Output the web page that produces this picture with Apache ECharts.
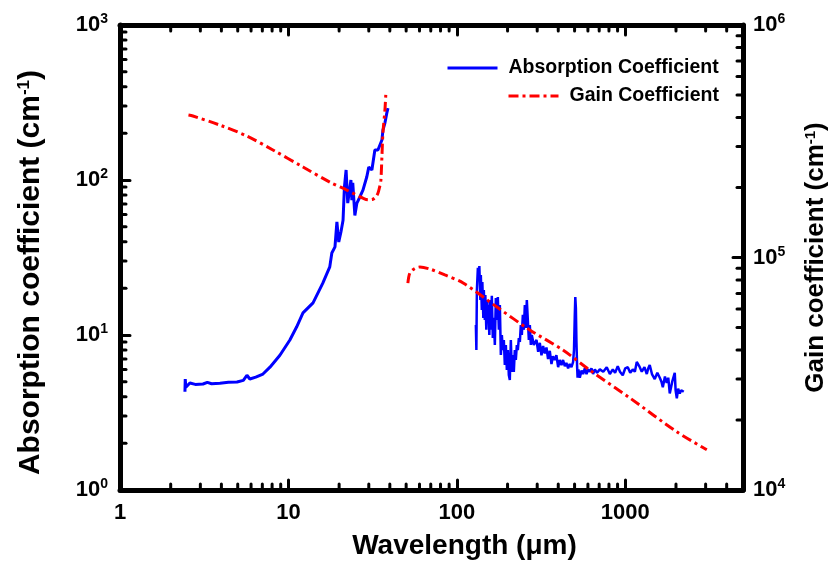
<!DOCTYPE html>
<html><head><meta charset="utf-8">
<script src="https://cdn.jsdelivr.net/npm/echarts@6/dist/echarts.min.js"></script>
<style>html,body{margin:0;padding:0;background:#fff}#c{width:833px;height:569px}</style>
</head><body><div id="c"></div>
<script>
// ---- data (wavelength in µm, coefficient in cm^-1) ----
const absorptionNearIR = [[2.43,4.3],[2.44,5.2],[2.46,4.6],[2.6,4.9],[2.8,4.8],[3.11,4.83],[3.3,4.95],[3.5,4.85],[3.92,4.88],[4.4,4.95],[4.95,4.97],[5.4,5.1],[5.67,5.5],[5.9,5.2],[6.4,5.35],[7.06,5.6],[7.77,6.2],[8.9,7.4],[10.2,9.29],[11.2,11.3],[12.2,13.9],[14.0,16.1],[16.0,21.6],[17.6,27.5],[18.1,33.8],[18.9,37.0],[19.4,53.6],[19.9,39.8],[20.5,46.2],[21.1,55],[21.5,90],[22.0,116],[22.5,71],[23.5,100],[23.8,74],[24.1,96],[24.8,59],[25.5,71],[26.6,78],[27.7,86],[29.2,105],[30.0,121],[31.3,116],[32.6,156],[34.0,156],[35.9,181],[36.4,210],[37.4,233],[38.4,271],[39.0,291]];
const absorptionFarIR = [[129.7,11.6],[130.6,8.0],[131.5,19.5],[133.3,27.1],[135.1,22.6],[136.0,27.9],[137.9,16.8],[138.8,24.4],[140.7,14.5],[141.7,22.0],[143.6,12.9],[144.6,19.5],[146.6,12.5],[147.6,18.1],[149.6,10.8],[150.7,16.8],[152.8,12.1],[153.8,15.6],[155.9,10.0],[157.0,16.8],[159.1,10.8],[161.3,17.9],[163.5,9.56],[165.8,12.9],[168.1,8.62],[170.4,17.3],[172.8,12.5],[175.1,17.6],[177.6,10.8],[180.0,15.6],[182.5,7.43],[185.0,10.0],[187.5,8.0],[190.1,9.29],[192.7,6.40],[195.4,8.62],[198.1,5.95],[200.8,8.0],[203.5,5.52],[206.3,5.12],[209.2,9.29],[212.1,5.77],[215.0,7.43],[217.9,5.77],[220.9,8.0],[224.0,6.90],[227.1,8.62],[230.2,8.0],[233.4,9.56],[236.6,9.01],[239.8,11.6],[243.1,10.0],[246.5,13.5],[249.9,10.8],[253.3,15.6],[256.8,11.1],[260.3,16.8],[263.9,12.5],[267.6,9.29],[271.2,11.6],[275.0,8.62],[278.7,10.0],[286.4,8.62],[297.1,9.29],[304,7.8],[310.9,8.9],[318,7.4],[325.2,8.5],[333,7.6],[340.4,8.3],[348,7.0],[356.3,7.9],[364.6,6.5],[372,7.3],[381.6,6.9],[390,7.4],[399.4,6.2],[408,6.9],[418.0,6.4],[427,6.9],[437.5,6.3],[447,6.6],[457.8,6.1],[468,6.5],[479.2,6.2],[490,6.7],[496,8.0],[501.2,13.1],[505,17.6],[509,15],[513,9.0],[517.5,6.3],[521,5.3],[527,6.0],[537,5.3],[550,5.9],[562,5.6],[575,6.1],[588.8,5.6],[600,6.0],[615.2,5.8],[630,6.1],[644,5.6],[660,6.0],[680,5.7],[706.3,6.0],[740,5.8],[776.2,6.2],[810,5.6],[843.3,6.0],[870,5.7],[902.2,6.3],[930,5.8],[966.1,5.5],[1000,6.1],[1035,6.2],[1070,5.7],[1108,6.0],[1140,5.8],[1170,6.7],[1210,6.3],[1253,5.8],[1300,6.2],[1342,5.6],[1370,6.1],[1397,6.4],[1440,5.6],[1496,5.2],[1550,5.7],[1603,5.3],[1640,5.0],[1671,4.6],[1720,5.4],[1762,4.9],[1800,5.3],[1837,4.2],[1900,5.0],[1967,5.7],[1990,4.4],[2023,3.9],[2060,4.5],[2106,4.2],[2150,4.4],[2224,4.3]];
const gainShort = [[2.55,4.1e5],[2.71,4.06e5],[3.92,3.71e5],[5.67,3.33e5],[8.09,2.9e5],[12.2,2.45e5],[17.6,2.11e5],[22.2,1.95e5],[27.7,1.8e5],[29.7,1.77e5],[31.7,1.78e5],[33.0,1.82e5],[34.0,1.89e5],[35.0,2.05e5],[35.4,2.15e5],[35.9,2.71e5],[36.4,3.43e5],[37.4,4.3e5],[37.9,5.11e5]];
const gainLong = [[51.2,7.76e4],[52.6,8.57e4],[56,8.95e4],[60.3,9.10e4],[69.2,8.92e4],[84.9,8.41e4],[109,7.77e4],[173,6.12e4],[271,4.88e4],[426,4.0e4],[615,3.28e4],[1064,2.49e4],[2023,1.78e4],[3048,1.49e4]];
const xMinorTicks = [2,3,4,5,6,7,8,9,20,30,40,50,60,70,80,90,200,300,400,500,600,700,800,900,2000,3000,4000];
const yLeftMinorTicks = [2,3,4,5,6,7,8,9,20,30,40,50,60,70,80,90,200,300,400,500,600,700,800,900];
const yRightMinorTicks = [2e4,3e4,4e4,5e4,6e4,7e4,8e4,9e4,2e5,3e5,4e5,5e5,6e5,7e5,8e5,9e5];
const seriesNames = ['Absorption Coefficient','Gain Coefficient'];
const axisTitles = {x:'Wavelength (μm)', yLeft:'Absorption coefficient (cm{s|-1})', yRight:'Gain coefficient (cm{s|-1})'};

const FONT = 'Liberation Sans, Arial, sans-serif';
const chart = echarts.init(document.getElementById('c'), null, {renderer:'canvas'});

function isDecade(v){const e=Math.log10(v);return Math.abs(e-Math.round(e))<1e-6;}
const powLabel = v => isDecade(v) ? '{b|10}{s|'+Math.round(Math.log10(v))+'}' : '';
const powRich = {b:{fontSize:22,fontWeight:'bold',fontFamily:FONT,color:'#000',lineHeight:25},
                 s:{fontSize:14,fontWeight:'bold',fontFamily:FONT,color:'#000',verticalAlign:'top',lineHeight:14}};
const axisBase = {
  type:'log', logBase:10,
  axisLine:{show:true,onZero:false,lineStyle:{color:'#000',width:5}},
  axisTick:{show:true,inside:true,length:10,lineStyle:{color:'#000',width:3,cap:'round'}},
  splitLine:{show:false}, minorTick:{show:false}, minorSplitLine:{show:false}
};
function titleStyle(size, extra){
  return Object.assign({fontSize:size,fontWeight:'bold',fontFamily:FONT,color:'#000',
    rich:{s:{fontSize:Math.round(size*0.58),fontWeight:'bold',fontFamily:FONT,color:'#000',verticalAlign:'top'}}}, extra||{});
}

function tick(x1,y1,x2,y2){return {type:'line',shape:{x1,y1,x2,y2},style:{stroke:'#000',lineWidth:3,lineCap:'round'}};}
const MINOR = 6;
function xMinorRender(p, api){
  const x = api.coord([api.value(0), api.value(1)])[0];
  const cs = p.coordSys; const yb = cs.y+cs.height, yt = cs.y;
  return {type:'group',children:[tick(x,yb,x,yb-MINOR),tick(x,yt,x,yt+MINOR)]};
}
function yLeftMinorRender(p, api){
  const y = api.coord([api.value(0), api.value(1)])[1];
  const cs = p.coordSys;
  return tick(cs.x,y,cs.x+MINOR,y);
}
function yRightMinorRender(p, api){
  const y = api.coord([api.value(0), api.value(1)])[1];
  const cs = p.coordSys; const xr = cs.x+cs.width;
  return tick(xr,y,xr-MINOR,y);
}

const legendText = {fontSize:19.5,fontWeight:'bold',fontFamily:FONT,color:'#000',padding:[0,0,0,6],lineHeight:20};
const legendBase = {itemWidth:50,itemHeight:14,textStyle:legendText,selectedMode:false,itemStyle:{opacity:0},lineStyle:{width:3}};
const option = {
  animation:false,
  backgroundColor:'#fff',
  grid:{left:120,right:90,top:25,bottom:79,containLabel:false,outerBoundsMode:'none'},
  legend:[
    Object.assign({data:[seriesNames[0]],left:441,top:53},legendBase),
    Object.assign({data:[seriesNames[1]],left:502,top:81},legendBase)
  ],
  xAxis:[
    Object.assign({},axisBase,{position:'bottom',min:1,max:5000,
      axisLabel:{formatter:v=>isDecade(v)?String(Math.round(v)):'',fontSize:22,fontWeight:'bold',fontFamily:FONT,color:'#000',margin:12,showMaxLabel:false},
      name:axisTitles.x,nameLocation:'middle',nameGap:42,
      nameTextStyle:titleStyle(28,{padding:[0,0,0,66]})}),
    Object.assign({},axisBase,{position:'top',min:1,max:5000,axisLabel:{show:false}})
  ],
  yAxis:[
    Object.assign({},axisBase,{position:'left',min:1,max:1000,
      axisLabel:{formatter:powLabel,rich:powRich,margin:12},
      name:axisTitles.yLeft,nameLocation:'middle',nameRotate:90,nameGap:74,
      nameTextStyle:titleStyle(30,{padding:[0,30,0,0]})}),
    Object.assign({},axisBase,{position:'right',min:1e4,max:1e6,
      axisLabel:{formatter:powLabel,rich:powRich,margin:10},
      name:axisTitles.yRight,nameLocation:'middle',nameRotate:90,nameGap:60,
      nameTextStyle:titleStyle(26)})
  ],
  series:[
    {name:seriesNames[0],type:'line',data:absorptionNearIR,xAxisIndex:0,yAxisIndex:0,symbol:'none',
      lineStyle:{color:'#0000ff',width:3},itemStyle:{color:'#0000ff'},z:3},
    {name:seriesNames[0],type:'line',data:absorptionFarIR,xAxisIndex:0,yAxisIndex:0,symbol:'none',
      lineStyle:{color:'#0000ff',width:2.5},itemStyle:{color:'#0000ff'},z:3},
    {name:seriesNames[1],type:'line',data:gainShort,xAxisIndex:0,yAxisIndex:1,symbol:'none',smooth:0.3,
      lineStyle:{color:'#ff0000',width:3,type:[10,4,3,4]},itemStyle:{color:'#ff0000'},z:4},
    {name:seriesNames[1],type:'line',data:gainLong,xAxisIndex:0,yAxisIndex:1,symbol:'none',smooth:0.3,
      lineStyle:{color:'#ff0000',width:3,type:[10,4,3,4]},itemStyle:{color:'#ff0000'},z:4},
    {type:'custom',name:'xMinor',data:xMinorTicks.map(v=>[v,1]),xAxisIndex:0,yAxisIndex:0,renderItem:xMinorRender,silent:true,clip:false,z:10},
    {type:'custom',name:'yLeftMinor',data:yLeftMinorTicks.map(v=>[1,v]),xAxisIndex:0,yAxisIndex:0,renderItem:yLeftMinorRender,silent:true,clip:false,z:10},
    {type:'custom',name:'yRightMinor',data:yRightMinorTicks.map(v=>[1,v]),xAxisIndex:0,yAxisIndex:1,renderItem:yRightMinorRender,silent:true,clip:false,z:10}
  ]
};
chart.setOption(option);
</script></body></html>
